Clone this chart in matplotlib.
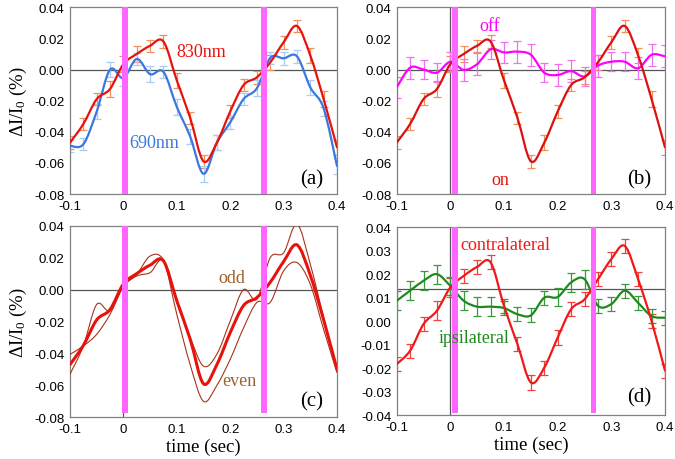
import numpy as np
import matplotlib
matplotlib.use("Agg")
import matplotlib.pyplot as plt
from matplotlib.path import Path
from matplotlib.patches import PathPatch
from matplotlib.ticker import FixedLocator, FixedFormatter

plt.rcParams['axes.unicode_minus'] = False
plt.rcParams['mathtext.fontset'] = 'custom'
plt.rcParams['mathtext.rm'] = 'Liberation Serif'
plt.rcParams['mathtext.it'] = 'Liberation Serif:italic'

# ---------------- data ----------------
time_s = [-0.1, -0.075, -0.05, -0.025, 0.0, 0.025, 0.05, 0.075, 0.1, 0.125, 0.15,
          0.175, 0.2, 0.225, 0.25, 0.275, 0.3, 0.325, 0.35, 0.375, 0.4]

nm830 = [-0.047, -0.035, -0.019, -0.0125, 0.0035, 0.010, 0.0153, 0.018, -0.007, -0.031, -0.059,
         -0.047, -0.027, -0.010, -0.005, 0.0046, 0.0175, 0.028, 0.009, -0.019, -0.050]
err830 = [0.004, 0.004, 0.004, 0.005, 0.005, 0.005, 0.004, 0.004, 0.005, 0.004, 0.004,
          0.005, 0.004, 0.004, 0.004, 0.005, 0.004, 0.004, 0.005, 0.005, 0.005]

nm690 = [-0.049, -0.048, -0.027, 0.000, -0.0055, 0.0068, -0.003, -0.0015, -0.024, -0.043, -0.067,
         -0.047, -0.034, -0.019, -0.012, 0.0075, 0.0072, 0.0085, -0.0115, -0.025, -0.062]
err690 = [0.004, 0.004, 0.005, 0.005, 0.005, 0.004, 0.005, 0.004, 0.005, 0.005, 0.005,
          0.005, 0.004, 0.004, 0.005, 0.004, 0.004, 0.004, 0.005, 0.005, 0.005]

off_vals = [-0.0115, 0.0012, 0.000, -0.002, 0.005, -0.0002, 0.0035, 0.013, 0.011, 0.0115, 0.0095,
            -0.002, -0.0035, -0.001, -0.0045, 0.0025, 0.005, 0.005, 0.0008, 0.0095, 0.0085]
off_err = [0.007, 0.007, 0.006, 0.006, 0.006, 0.007, 0.007, 0.006, 0.007, 0.007, 0.007,
           0.006, 0.007, 0.007, 0.006, 0.007, 0.006, 0.006, 0.007, 0.007, 0.007]

odd_vals = [-0.053, -0.0353, -0.0093, -0.0134, 0.002, 0.0095, 0.021, 0.0185, -0.008, -0.030, -0.048,
            -0.0405, -0.0197, 0.0, -0.006, 0.020, 0.023, 0.041, 0.0158, -0.0176, -0.051]
even_vals = [-0.0406, -0.0353, -0.028, -0.0155, 0.002, 0.0085, 0.0106, 0.0175, -0.0155, -0.047, -0.070,
             -0.060, -0.0437, -0.024, -0.008, -0.008, 0.0117, 0.0169, 0.0033, -0.025, -0.052]

contra = [-0.0182, -0.0125, -0.0012, 0.0045, 0.0144, 0.0193, 0.0231, 0.025, 0.0065, -0.0097, -0.026,
          -0.0197, -0.0069, 0.0051, 0.0093, 0.0178, 0.0264, 0.032, 0.0178, 0.0001, -0.021]
contra_err = [0.003, 0.003, 0.003, 0.004, 0.004, 0.003, 0.003, 0.003, 0.003, 0.003, 0.003,
              0.003, 0.003, 0.003, 0.003, 0.003, 0.003, 0.003, 0.003, 0.003, 0.003]
ipsi = [0.0087, 0.013, 0.0172, 0.020, 0.015, 0.0087, 0.0062, 0.0062, 0.0056, 0.003, 0.0025,
        0.010, 0.0103, 0.0165, 0.0179, 0.0066, 0.0073, 0.013, 0.0078, 0.0022, 0.0015]
ipsi_err = [0.004, 0.004, 0.004, 0.004, 0.004, 0.004, 0.004, 0.004, 0.003, 0.003, 0.003,
            0.003, 0.004, 0.004, 0.004, 0.003, 0.003, 0.003, 0.003, 0.003, 0.003]

x_ticks = [-0.1, 0.0, 0.1, 0.2, 0.3, 0.4]
x_ticklabels = ["-0.1", "0", "0.1", "0.2", "0.3", "0.4"]
y_ticks_abc = [-0.08, -0.06, -0.04, -0.02, 0.0, 0.02, 0.04]
y_ticklabels_abc = ["-0.08", "-0.06", "-0.04", "-0.02", "0.00", "0.02", "0.04"]
y_ticks_d = [-0.04, -0.03, -0.02, -0.01, 0.0, 0.01, 0.02, 0.03, 0.04]
y_ticklabels_d = ["-0.04", "-0.03", "-0.02", "-0.01", "0.00", "0.01", "0.02", "0.03", "0.04"]

stim_a = [(-0.002, 0.008), (0.257, 0.268)]
stim_b = [(0.003, 0.0135), (0.262, 0.2705)]

# ---------------- helpers ----------------
SERIF = 'Liberation Serif'
SANS = 'Liberation Sans'
PINK = '#ff66ff'


def smooth_path(x, y):
    x = np.asarray(x, float)
    y = np.asarray(y, float)
    n = len(x)
    verts = [(x[0], y[0])]
    codes = [Path.MOVETO]
    for i in range(n - 1):
        p0 = i - 1 if i > 0 else i
        p3 = i + 2 if i + 2 < n else i + 1
        c1 = (x[i] + (x[i + 1] - x[p0]) / 6, y[i] + (y[i + 1] - y[p0]) / 6)
        c2 = (x[i + 1] - (x[p3] - x[i]) / 6, y[i + 1] - (y[p3] - y[i]) / 6)
        verts += [c1, c2, (x[i + 1], y[i + 1])]
        codes += [Path.CURVE4] * 3
    return Path(verts, codes)


def curve(ax, y, color, lw, z=3):
    ax.add_patch(PathPatch(smooth_path(time_s, y), fill=False, edgecolor=color,
                           lw=lw, zorder=z, capstyle='round', joinstyle='round'))


def ebars(ax, y, e, color):
    ax.errorbar(time_s, y, yerr=e, fmt='none', ecolor=color, elinewidth=0.9,
                capsize=2.6, capthick=0.9, zorder=2)


def label(ax, x, y, s, color, size=13):
    ax.text(x, y, s, color=color, fontsize=size, family=SERIF, va='center', zorder=7)


def setup(ax, yl, yticks, ylabels, zero_y, stims, bar_bottom=None):
    ax.set_xlim(-0.1, 0.4)
    ax.set_ylim(*yl)
    ax.xaxis.set_major_locator(FixedLocator(x_ticks))
    ax.xaxis.set_major_formatter(FixedFormatter(x_ticklabels))
    ax.yaxis.set_major_locator(FixedLocator(yticks))
    ax.yaxis.set_major_formatter(FixedFormatter(ylabels))
    ax.tick_params(length=0, labelsize=9.5, pad=4)
    for lab in ax.get_xticklabels() + ax.get_yticklabels():
        lab.set_fontfamily(SANS)
    for s in ax.spines.values():
        s.set_color('#808080')
        s.set_linewidth(0.9)
    ax.axhline(zero_y, color='#555555', lw=0.9, zorder=1)
    ax.axvline(0.0, color='#555555', lw=0.9, zorder=1)
    bb = yl[0] if bar_bottom is None else bar_bottom
    for (a, b) in stims:
        ax.fill_between([a, b], [bb, bb], [yl[1], yl[1]], color=PINK, lw=0, zorder=5)


fig = plt.figure(figsize=(6.75, 4.6), dpi=100)
L1, R1 = 70 / 675, 337 / 675
L2, R2 = 396.7 / 675, 665 / 675
T1, B1 = 1 - 8.3 / 460, 1 - 195 / 460
T2, B2 = 1 - 226.7 / 460, 1 - 418.3 / 460

axa = fig.add_axes([L1, B1, R1 - L1, T1 - B1])
axb = fig.add_axes([L2, B1, R2 - L2, T1 - B1])
axc = fig.add_axes([L1, B2, R1 - L1, T2 - B2])
axd = fig.add_axes([L2, B2 + 0.004, R2 - L2, T2 - B2 - 0.007])

# (a)
setup(axa, (-0.08, 0.04), y_ticks_abc, y_ticklabels_abc, 0.0, stim_a)
ebars(axa, nm830, err830, '#f0905a')
ebars(axa, nm690, err690, '#a9cdf2')
curve(axa, nm690, '#3a78e0', 1.6)
curve(axa, nm830, '#e8120c', 1.6)
label(axa, 0.099, 0.0113, '830nm', '#e8120c')
label(axa, 0.011, -0.0468, '690nm', '#3a78e0')
label(axa, 0.331, -0.0704, '(a)', 'black', 15)

# (b)
setup(axb, (-0.08, 0.04), y_ticks_abc, y_ticklabels_abc, 0.0, stim_b)
ebars(axb, nm830, err830, '#f0905a')
ebars(axb, off_vals, off_err, '#f070f0')
curve(axb, off_vals, '#ff00ff', 1.6)
curve(axb, nm830, '#dd1010', 1.6)
label(axb, 0.0535, 0.0282, 'off', '#ff00ff')
label(axb, 0.077, -0.0704, 'on', '#e8120c')
label(axb, 0.329, -0.0704, '(b)', 'black', 15)

# (c)
setup(axc, (-0.08, 0.04), y_ticks_abc, y_ticklabels_abc, 0.0, stim_a, bar_bottom=-0.0775)
curve(axc, odd_vals, '#a8321c', 0.8)
curve(axc, even_vals, '#a8321c', 0.8)
curve(axc, nm830, '#e8120c', 2.2, z=4)
label(axc, 0.177, 0.0077, 'odd', '#a0602c')
label(axc, 0.186, -0.057, 'even', '#a0602c')
label(axc, 0.331, -0.0696, '(c)', 'black', 15)

# (d)
setup(axd, (-0.04, 0.04), y_ticks_d, y_ticklabels_d, 0.0137, stim_b, bar_bottom=-0.039)
ebars(axd, contra, contra_err, '#f04040')
ebars(axd, ipsi, ipsi_err, '#3a9a3a')
curve(axd, ipsi, '#1e8a1e', 1.6)
curve(axd, contra, '#f01818', 1.6)
label(axd, 0.018, 0.0326, 'contralateral', '#f01818')
label(axd, -0.0224, -0.0067, 'ipsilateral', '#1e8a1e')
label(axd, 0.329, -0.0322, '(d)', 'black', 15)

ylab = r'$\Delta\mathrm{I/I}_0$ (%)'
for ax in (axa, axc):
    ax.set_ylabel(ylab, fontsize=13.5, family=SERIF, labelpad=4)
for ax in (axc, axd):
    ax.set_xlabel('time (sec)', fontsize=13.5, family=SERIF, labelpad=2)

fig.savefig('out.png', dpi=100)
